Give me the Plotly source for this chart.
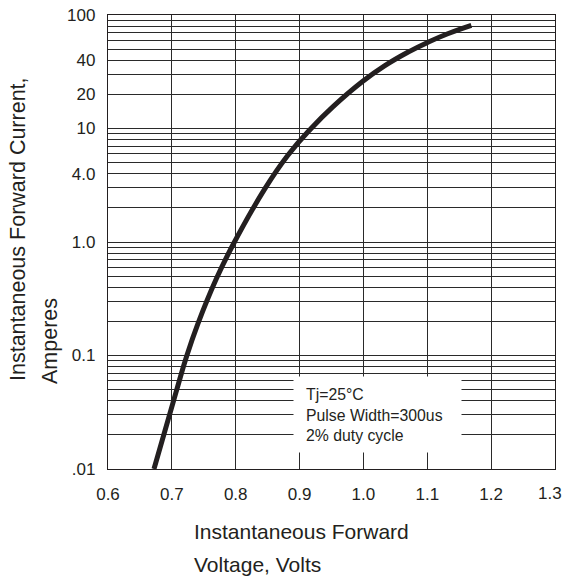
import plotly.graph_objects as go

# Curve (forward voltage in V, current in A)
voltage = [0.672, 0.706, 0.723, 0.741, 0.770, 0.798, 0.846, 0.882,
           0.918, 0.952, 0.998, 1.033, 1.070, 1.101, 1.132, 1.169]
current = [0.0100, 0.0464, 0.098, 0.192, 0.479, 1.0, 2.97, 5.84,
           10.0, 15.5, 25.8, 35.6, 47.1, 57.5, 68.3, 81.0]

x_ticks = [0.6, 0.7, 0.8, 0.9, 1.0, 1.1, 1.2, 1.3]
x_labels = ["0.6", "0.7", "0.8", "0.9", "1.0", "1.1", "1.2", "1.3"]

y_label_vals = [0.01, 0.1, 1.0, 4.0, 10.0, 20.0, 40.0, 100.0]
y_label_text = [".01", "0.1", "1.0", "4.0", "10", "20", "40", "100"]

# log-paper grid: 1..9 in each decade
y_grid = [round(m * 10.0 ** e, 6) for e in range(-2, 2) for m in range(1, 10)] + [100.0]
y_grid_text = []
for v in y_grid:
    hit = [t for lv, t in zip(y_label_vals, y_label_text) if abs(lv - v) < 1e-9]
    y_grid_text.append(hit[0] if hit else "")

note_lines = ["Tj=25°C", "Pulse Width=300us", "2% duty cycle"]
x_title = ["Instantaneous Forward", "Voltage, Volts"]
y_title = ["Instantaneous Forward Current,", "Amperes"]

INK = "#231f20"
GRID = "#2a2a2a"
FONT = "Liberation Sans, Arial, sans-serif"

fig = go.Figure()
fig.add_trace(go.Scatter(
    x=voltage, y=current, mode="lines",
    line=dict(color=INK, width=5, shape="spline", smoothing=1.3),
    hoverinfo="skip", showlegend=False,
))

W, H = 565, 580
L, R, T, B = 108, 10, 15, 111
pw, ph = W - L - R, H - T - B

def px_x(x):
    return (x - L) / pw

def px_y(y):
    return (H - B - y) / ph

# last x label sits at the page edge: draw it separately so it stays whole
x_labels_axis = x_labels[:-1] + [""]

fig.update_layout(
    width=W, height=H,
    margin=dict(l=L, r=R, t=T, b=B, autoexpand=False),
    paper_bgcolor="white", plot_bgcolor="white",
    font=dict(family=FONT, color=INK, size=17),
    xaxis=dict(
        range=[0.6, 1.3], tickvals=x_ticks, ticktext=x_labels_axis,
        showgrid=True, gridcolor=GRID, gridwidth=1.2,
        showline=True, linecolor=INK, linewidth=1.3, mirror=True,
        ticks="", zeroline=False, ticklabelstandoff=9, automargin=False,
        tickfont=dict(size=17, family=FONT, color=INK),
    ),
    yaxis=dict(
        type="log", range=[-2, 2], tickvals=y_grid, ticktext=y_grid_text,
        showgrid=True, gridcolor=GRID, gridwidth=1,
        showline=True, linecolor=INK, linewidth=1.3, mirror=True,
        ticks="", zeroline=False, ticklabelstandoff=8, automargin=False,
        ticklabeloverflow="allow",
        tickfont=dict(size=17, family=FONT, color=INK),
    ),
)

fig.add_annotation(
    xref="paper", yref="paper", x=px_x(564), y=px_y(493),
    xanchor="right", yanchor="middle", text=x_labels[-1], showarrow=False,
    font=dict(size=17, family=FONT, color=INK),
)

# white note box covering the grid
fig.add_annotation(
    xref="paper", yref="paper", x=px_x(377.5), y=px_y(414.5),
    xanchor="center", yanchor="middle", text=" ", showarrow=False,
    width=167, height=75, bgcolor="white", borderpad=0,
)
fig.add_annotation(
    xref="paper", yref="paper", x=px_x(304), y=px_y(415),
    xanchor="left", yanchor="middle", align="left",
    text="<br>".join(note_lines), showarrow=False,
    font=dict(size=15.8, family=FONT, color=INK),
)

# axis titles
fig.add_annotation(
    xref="paper", yref="paper", x=px_x(192), y=px_y(531),
    xanchor="left", yanchor="middle", text=x_title[0], showarrow=False,
    font=dict(size=21, family=FONT, color=INK),
)
fig.add_annotation(
    xref="paper", yref="paper", x=px_x(192), y=px_y(564),
    xanchor="left", yanchor="middle", text=x_title[1], showarrow=False,
    font=dict(size=21, family=FONT, color=INK),
)
fig.add_annotation(
    xref="paper", yref="paper", x=px_x(18), y=px_y(229),
    xanchor="center", yanchor="middle", text=y_title[0], showarrow=False,
    textangle=-90, font=dict(size=21.5, family=FONT, color=INK),
)
fig.add_annotation(
    xref="paper", yref="paper", x=px_x(50), y=px_y(341),
    xanchor="center", yanchor="middle", text=y_title[1], showarrow=False,
    textangle=-90, font=dict(size=21.5, family=FONT, color=INK),
)

fig.write_html(
    "out.html",
    config={"displayModeBar": False},
    post_script="document.body.style.margin='0';document.body.style.overflow='hidden';",
)
